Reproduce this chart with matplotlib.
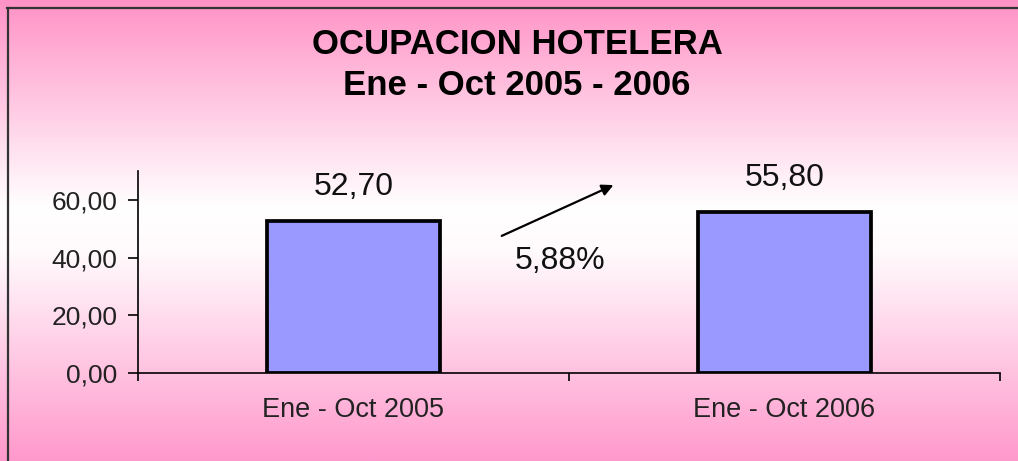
import numpy as np
import matplotlib.pyplot as plt
from matplotlib.colors import LinearSegmentedColormap

plt.rcParams['font.family'] = ['Liberation Sans', 'DejaVu Sans']

# data
categories = ['Ene - Oct 2005', 'Ene - Oct 2006']
values = [52.70, 55.80]
yticks = [0, 20, 40, 60]

title1 = 'OCUPACION HOTELERA'
title2 = 'Ene - Oct 2005 - 2006'


def fmt(v):
    return ('%.2f' % v).replace('.', ',')


fig = plt.figure(figsize=(10.18, 4.61), dpi=100)

# pink - white - pink gradient background
bg = fig.add_axes([0, 0, 1, 1], zorder=-10)
cmap = LinearSegmentedColormap.from_list(
    'bg', [(0.0, '#ff92c6'), (0.45, '#ffffff'), (0.55, '#fffafc'), (1.0, '#ff99cc')])
grad = np.linspace(0, 1, 256).reshape(-1, 1)
bg.imshow(grad, aspect='auto', cmap=cmap, extent=[0, 1, 0, 1], origin='upper')
bg.plot([7 / 1018, 1.01], [1 - 8 / 461] * 2, color='#333333', lw=1.6, clip_on=False)
bg.plot([8 / 1018] * 2, [-0.01, 1 - 8 / 461], color='#333333', lw=1.6, clip_on=False)
bg.set_xlim(0, 1)
bg.set_ylim(0, 1)
bg.axis('off')

ax = fig.add_axes([138 / 1018, 1 - 373 / 461, 862 / 1018, 202 / 461])
ax.patch.set_alpha(0)
x = np.arange(len(categories))
ax.bar(x, values, width=0.40, color='#9999ff', edgecolor='black', linewidth=2.7, zorder=3)

for xi, v in zip(x, values):
    ax.annotate(fmt(v), (xi, v), xytext=(0, 24.5), textcoords='offset points',
                ha='center', va='center', fontsize=23, color='#111111')

pct = (values[1] - values[0]) / values[0] * 100
ax.annotate('', xy=(0.5545, 0.936), xytext=(0.419, 0.673), xycoords='axes fraction',
            arrowprops=dict(arrowstyle='-|>', color='black', lw=1.6, mutation_scale=17),
            annotation_clip=False)
ax.text(0.4896, 0.553, ('%.2f' % pct).replace('.', ',') + '%', transform=ax.transAxes,
        ha='center', va='center', fontsize=23, color='#111111')

ax.set_xlim(-0.5, len(categories) - 0.5)
ax.set_ylim(0, 70)
ax.set_yticks(yticks)
ax.set_yticklabels([fmt(t) for t in yticks], fontsize=19, color='#222222')
ax.set_xticks(x)
ax.set_xticklabels(categories, fontsize=19.5, color='#222222')
ax.set_xticks(np.arange(len(categories) + 1) - 0.5, minor=True)
ax.tick_params(axis='x', which='major', length=0, pad=17)
ax.tick_params(axis='x', which='minor', length=6, width=1.2, direction='out')
ax.tick_params(axis='y', length=7, width=1.2, direction='out', pad=8)
for s in ['top', 'right']:
    ax.spines[s].set_visible(False)
for s in ['left', 'bottom']:
    ax.spines[s].set_linewidth(1.2)
ax.spines['left'].set_bounds(0, 70)

fig.text(517 / 1018, 1 - 45 / 461, title1, ha='center', va='center',
         fontsize=25, fontweight='bold')
fig.text(517 / 1018, 1 - 85 / 461, title2, ha='center', va='center',
         fontsize=25, fontweight='bold')

fig.savefig('out.png', dpi=100)
